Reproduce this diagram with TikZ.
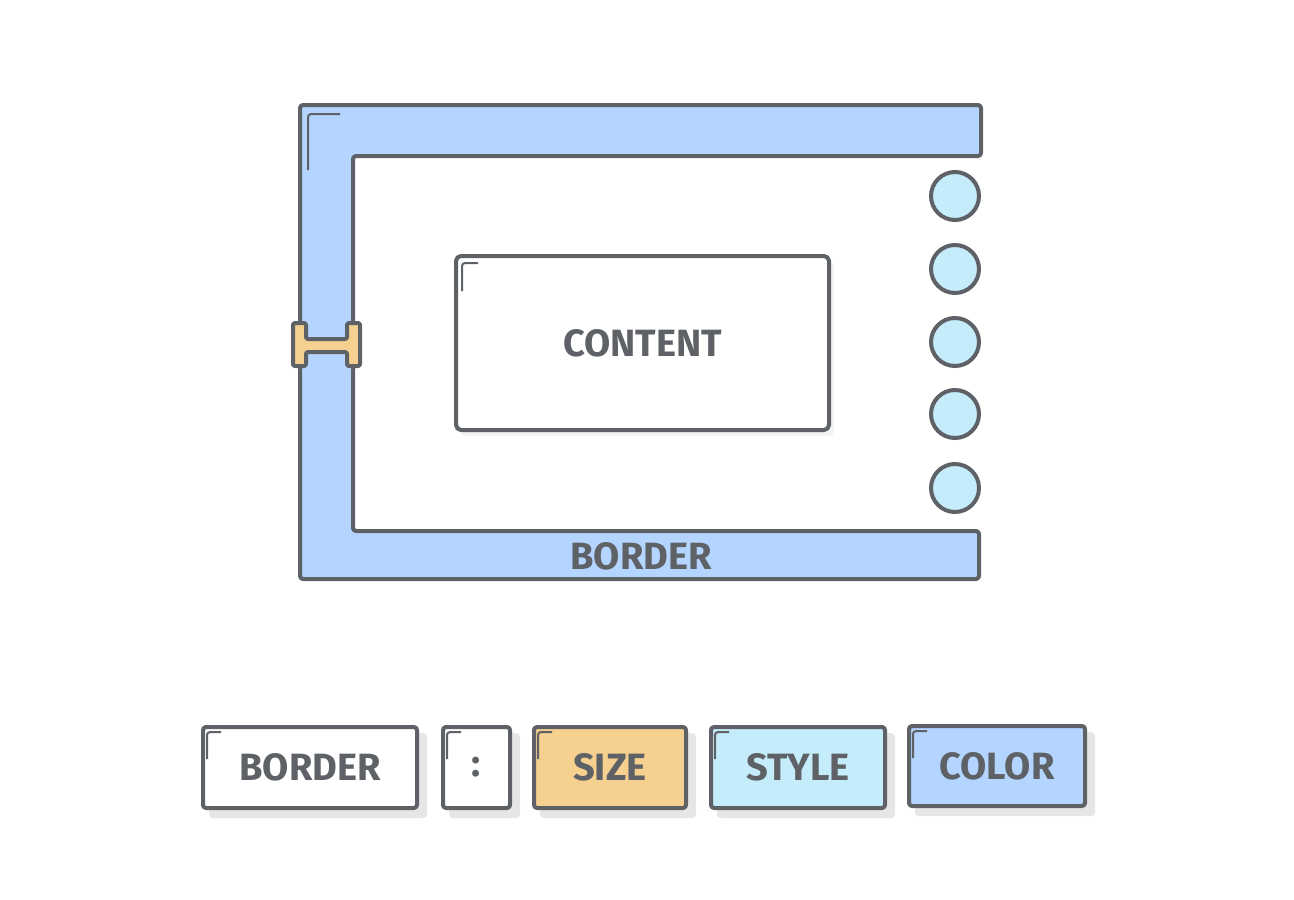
\documentclass[tikz,border=0pt]{standalone}
\usepackage{fontspec}
\setmainfont{Fira Sans}
\usetikzlibrary{backgrounds}
\definecolor{ln}{HTML}{5E6266}
\definecolor{cblue}{HTML}{B3D5FF}
\definecolor{ccyan}{HTML}{C4ECFA}
\definecolor{corange}{HTML}{F5D08F}
\definecolor{shgray}{HTML}{E6E6E6}
\definecolor{shlight}{HTML}{F3F3F3}
\begin{document}
\begin{tikzpicture}[x=1pt,y=-1pt,
  edge/.style={draw=ln, line width=4pt, line join=round, rounded corners=3pt},
  cornermark/.style={draw=ln, line width=2pt, rounded corners=3pt},
  lbl/.style={text=ln, font=\fontsize{38}{38}\selectfont\bfseries},
  btn/.style={edge, fill=white, minimum height=81pt, inner sep=0pt, lbl},
  dot/.style={circle, draw=ln, line width=4pt, fill=ccyan, minimum size=48pt, inner sep=0pt}]
\useasboundingbox (0,0) rectangle (1294,900);
% frame with border
\path[edge, fill=cblue] (300,105) -- (981,105) -- (981,156) -- (353,156) -- (353,531)
  -- (979,531) -- (979,579) -- (300,579) -- cycle;
\draw[cornermark] (308,170) -- (308,114) -- (340,114);
\node[lbl] (borderlbl) at (641,556) {BORDER};
% size handle
\path[edge, fill=corange, rounded corners=2pt] (293,323) -- (306,323) -- (306,339) -- (347,339)
  -- (347,323) -- (360,323) -- (360,366) -- (347,366) -- (347,352) -- (306,352)
  -- (306,366) -- (293,366) -- cycle;
% content
\fill[shlight, rounded corners=5pt] (460,262) rectangle (834,436);
\node[edge, fill=white, rounded corners=5pt, minimum width=373pt, minimum height=174pt,
  inner sep=0pt, lbl] (content) at (642.5,343) {CONTENT};
\draw[cornermark] (462,291) -- (462,263) -- (478,263);
% dots
\foreach \i/\yy in {1/196,2/269,3/342,4/414,5/488}
  \node[dot] (d\i) at (955,\yy) {};
% buttons
\node[btn, minimum width=214pt] (bborder) at (310,767.5) {BORDER};
\node[btn, minimum width=67pt] (bcolon) at (476.5,767.5) {:};
\node[btn, fill=corange, minimum width=152pt] (bsize) at (610,767.5) {SIZE};
\node[btn, fill=ccyan, minimum width=174pt] (bstyle) at (798,767.5) {STYLE};
\node[btn, fill=cblue, minimum width=176pt, minimum height=80pt] (bcolor) at (997,766) {COLOR};
\begin{scope}[on background layer]
  \foreach \n in {bborder,bcolon,bsize,bstyle,bcolor}
    \fill[shgray, rounded corners=4pt] ([shift={(8,8)}]\n.north west) rectangle ([shift={(8,8)}]\n.south east);
\end{scope}
\foreach \n in {bborder,bcolon,bsize,bstyle,bcolor}
  \draw[cornermark] ([shift={(6,34)}]\n.north west) -- ([shift={(6,7)}]\n.north west) -- ([shift={(20,7)}]\n.north west);
\end{tikzpicture}
\end{document}
